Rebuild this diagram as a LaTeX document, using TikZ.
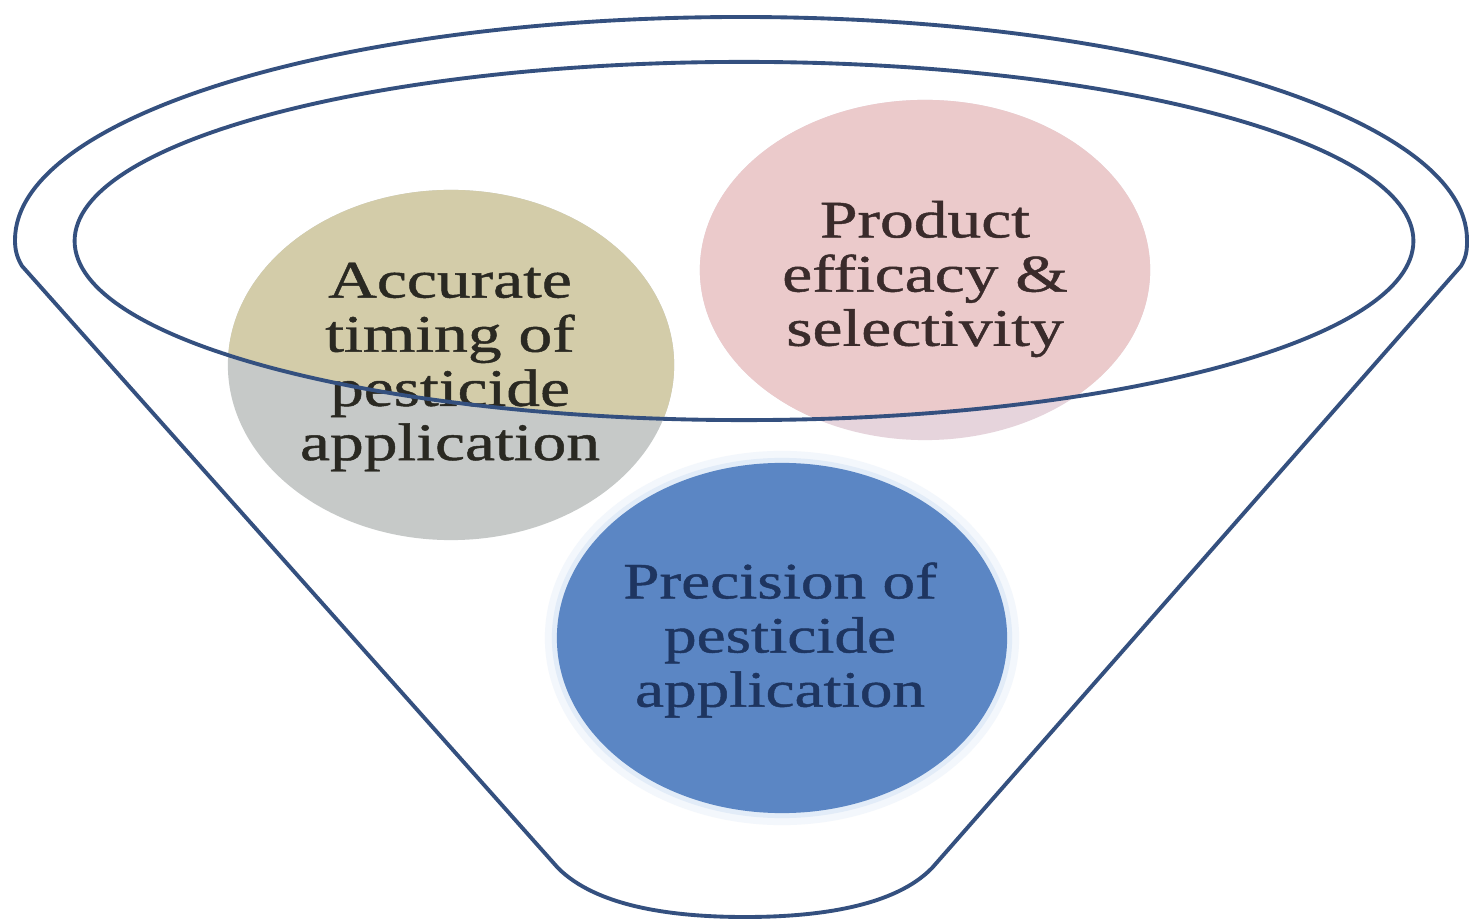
\documentclass[tikz,border=0pt]{standalone}
\usepackage{fontspec}
\setmainfont{Liberation Serif}[FakeStretch=1.28, FakeBold=0.9]
\usetikzlibrary{shapes.geometric}
\definecolor{lineC}{HTML}{34507F}
\definecolor{oliveTop}{HTML}{D3CCA9}
\definecolor{oliveLow}{HTML}{C6C9C8}
\definecolor{pinkTop}{HTML}{EBCACB}
\definecolor{pinkLow}{HTML}{E6D4DC}
\definecolor{blueC}{HTML}{5B86C4}
\definecolor{haloA}{HTML}{F3F7FC}
\definecolor{haloB}{HTML}{E2ECF8}
\definecolor{txtO}{HTML}{2A2922}
\definecolor{txtP}{HTML}{3A2B2B}
\definecolor{txtB}{HTML}{1E3560}
\tikzset{
  funnel/.style={draw=lineC, line width=1.1pt, line join=round},
  bubble/.style={ellipse, inner sep=0pt, draw=none},
  lbl/.style={align=center, inner sep=0pt, font=\fontsize{15}{15.4}\selectfont},
}
\begin{document}
\begin{tikzpicture}[x=0.01cm, y=-0.01cm]
\fill[white] (0,0) rectangle (1470,922);
\useasboundingbox (0,0) rectangle (1470,922);

% blue circle halo
\fill[haloA] (782,638) ellipse [x radius=2.37cm, y radius=1.87cm];
\fill[haloB] (782,638) ellipse [x radius=2.30cm, y radius=1.80cm];

% olive circle (grey below the rim)
\node[bubble, fill=oliveLow, minimum width=4.46cm, minimum height=3.5cm] (acc) at (451,365) {};
\begin{scope}
  \clip (744,241) ellipse [x radius=6.69cm, y radius=1.79cm];
  \fill[oliveTop] (acc.center) ellipse [x radius=2.23cm, y radius=1.75cm];
\end{scope}

% pink circle
\node[bubble, fill=pinkLow, minimum width=4.5cm, minimum height=3.4cm] (prod) at (925,270) {};
\begin{scope}
  \clip (744,241) ellipse [x radius=6.69cm, y radius=1.79cm];
  \fill[pinkTop] (prod.center) ellipse [x radius=2.25cm, y radius=1.70cm];
\end{scope}

% blue circle
\node[bubble, fill=blueC, minimum width=4.5cm, minimum height=3.5cm] (prec) at (782,638) {};

% texts
\node[lbl, text=txtO] (accT) at (450,367) {Accurate\\timing of\\pesticide\\application};
\node[lbl, text=txtP] (prodT) at (925,279) {Product\\efficacy \&\\selectivity};
\node[lbl, text=txtB, font=\fontsize{14.5}{15.4}\selectfont] (precT) at (780,640) {Precision of\\pesticide\\application};

% funnel outline
\draw[funnel] (22,266) -- (558,868)
  .. controls (596,906) and (670,917) .. (745,917)
  .. controls (820,917) and (895,906) .. (932,868)
  -- (1461,266)
  .. controls (1467,256) and (1467,248) .. (1467,240)
  .. controls (1467,116.8) and (1142,17) .. (741,17)
  .. controls (340,17) and (15,116.8) .. (15,240)
  .. controls (15,248) and (16,256) .. cycle;

% inner rim
\draw[funnel] (744,241) ellipse [x radius=6.69cm, y radius=1.79cm];
\end{tikzpicture}
\end{document}
